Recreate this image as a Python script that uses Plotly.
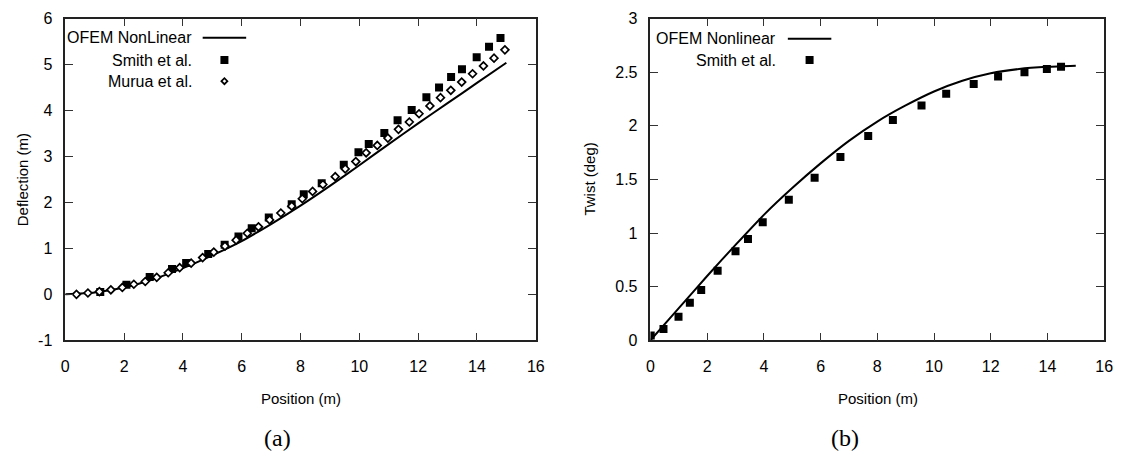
import plotly.graph_objects as go

# ---------------- data: panel (a) deflection ----------------
ofem_a_x = [0, 1, 2, 3, 4, 5, 6, 7, 8, 9, 10, 11, 12, 13, 14, 15]
ofem_a_y = [0.0, 0.04, 0.15, 0.33, 0.57, 0.85, 1.16, 1.53, 1.93, 2.36, 2.81, 3.27, 3.72, 4.16, 4.60, 5.04]

smith_a_x = [1.19, 2.08, 2.87, 3.63, 4.11, 4.86, 5.42, 5.89, 6.34, 6.92, 7.70, 8.11, 8.72,
             9.47, 9.97, 10.32, 10.85, 11.30, 11.78, 12.28, 12.71, 13.12, 13.49, 13.99, 14.41, 14.80]
smith_a_y = [0.05, 0.21, 0.38, 0.55, 0.68, 0.88, 1.08, 1.26, 1.44, 1.67, 1.96, 2.18, 2.42,
             2.82, 3.09, 3.27, 3.51, 3.79, 4.01, 4.29, 4.50, 4.73, 4.90, 5.16, 5.39, 5.58]

murua_a_x = [0.38, 0.77, 1.16, 1.55, 1.94, 2.33, 2.72, 3.11, 3.50, 3.89, 4.28, 4.67, 5.05, 5.43,
             5.81, 6.19, 6.57, 6.95, 7.33, 7.70, 8.06, 8.41, 8.76, 9.18, 9.52, 9.88, 10.23, 10.61,
             10.97, 11.33, 11.70, 12.03, 12.40, 12.76, 13.11, 13.48, 13.85, 14.22, 14.58, 14.95]
murua_a_y = [0.0, 0.03, 0.06, 0.10, 0.15, 0.22, 0.28, 0.37, 0.47, 0.58, 0.68, 0.80, 0.92, 1.05,
             1.18, 1.33, 1.47, 1.62, 1.77, 1.92, 2.08, 2.24, 2.39, 2.56, 2.73, 2.89, 3.08, 3.24,
             3.40, 3.59, 3.75, 3.93, 4.10, 4.28, 4.44, 4.62, 4.80, 4.97, 5.14, 5.32]

# ---------------- data: panel (b) twist ----------------
ofem_b_x = [0, 1, 2, 3, 4, 5, 6, 7, 8, 9, 10, 11, 12, 13, 14, 15]
ofem_b_y = [0.0, 0.30, 0.60, 0.89, 1.17, 1.42, 1.65, 1.86, 2.04, 2.19, 2.32, 2.42, 2.49, 2.53, 2.55, 2.56]

smith_b_x = [0.01, 0.46, 0.99, 1.39, 1.79, 2.37, 3.00, 3.44, 3.96, 4.88, 5.79, 6.70, 7.68, 8.55,
             9.56, 10.43, 11.40, 12.26, 13.19, 13.98, 14.48]
smith_b_y = [0.045, 0.105, 0.22, 0.35, 0.47, 0.65, 0.83, 0.945, 1.10, 1.31, 1.515, 1.71, 1.905, 2.055,
             2.19, 2.30, 2.39, 2.46, 2.50, 2.53, 2.55]

x_ticks = [0, 2, 4, 6, 8, 10, 12, 14, 16]
y_ticks_a = [-1, 0, 1, 2, 3, 4, 5, 6]
y_ticks_a_text = ["-1", "0", "1", "2", "3", "4", "5", "6"]
y_ticks_b = [0, 0.5, 1, 1.5, 2, 2.5, 3]

W, H = 1125, 463
FONT = "Liberation Sans, Arial, sans-serif"

fig = go.Figure()

# panel (a)
fig.add_trace(go.Scatter(x=ofem_a_x, y=ofem_a_y, mode="lines",
                         line=dict(color="black", width=2, shape="spline", smoothing=0.6),
                         xaxis="x", yaxis="y", showlegend=False))
fig.add_trace(go.Scatter(x=smith_a_x, y=smith_a_y, mode="markers",
                         marker=dict(symbol="square", size=8, color="black"),
                         xaxis="x", yaxis="y", showlegend=False))
fig.add_trace(go.Scatter(x=murua_a_x, y=murua_a_y, mode="markers",
                         marker=dict(symbol="diamond", size=6, color="white", line=dict(color="black", width=1.7)),
                         xaxis="x", yaxis="y", showlegend=False))
# panel (b)
fig.add_trace(go.Scatter(x=ofem_b_x, y=ofem_b_y, mode="lines",
                         line=dict(color="black", width=2, shape="spline", smoothing=0.6),
                         xaxis="x2", yaxis="y2", showlegend=False))
fig.add_trace(go.Scatter(x=smith_b_x, y=smith_b_y, mode="markers",
                         marker=dict(symbol="square", size=8, color="black"),
                         xaxis="x2", yaxis="y2", showlegend=False))

def px(x):
    return x / W

def py(y):
    return 1 - y / H

ydom = [py(345), py(11)]
axis_common = dict(showgrid=False, zeroline=False, showline=True, linecolor="#222", linewidth=1.5,
                   mirror="ticks", ticks="inside", ticklen=8, tickwidth=1, tickcolor="#333",
                   tickfont=dict(family=FONT, size=16, color="black"))

fig.update_layout(
    width=W, height=H, autosize=False,
    margin=dict(l=0, r=0, t=0, b=0),
    paper_bgcolor="white", plot_bgcolor="white",
    showlegend=False,
    xaxis=dict(domain=[px(62), px(538)], range=[0, 16], tickvals=x_ticks, anchor="y",
               ticklabelstandoff=11, **axis_common),
    yaxis=dict(domain=ydom, range=[-1, 6], tickvals=y_ticks_a, ticktext=y_ticks_a_text, anchor="x",
               ticklabelstandoff=8, **axis_common),
    xaxis2=dict(domain=[px(654), px(1113)], range=[0, 16], tickvals=x_ticks, anchor="y2",
                ticklabelstandoff=11, **axis_common),
    yaxis2=dict(domain=ydom, range=[0, 3], tickvals=y_ticks_b, anchor="x2",
                ticklabelstandoff=8, **axis_common),
)

annotations = []
def text(x, y, s, size=15, anchor="center", angle=0, family=FONT):
    annotations.append(dict(x=px(x), y=py(y), xref="paper", yref="paper", text=s, showarrow=False,
                            xanchor=anchor, yanchor="middle", textangle=angle,
                            font=dict(family=family, size=size, color="black")))

# axis titles
text(300, 405, "Position (m)")
text(884, 405, "Position (m)")
text(19, 178, "Deflection (m)", angle=-90)
text(592, 178, "Twist (deg)", angle=-90)
# panel captions
text(277, 446, "(a)", size=24, family="Liberation Serif, serif")
text(851, 446, "(b)", size=24, family="Liberation Serif, serif")

# gnuplot-style keys (text right-aligned, sample to the right)
text(192, 31, "OFEM NonLinear", size=16, anchor="right")
text(192, 54, "Smith et al.", size=16, anchor="right")
text(192, 76, "Murua et al.", size=16, anchor="right")
text(783, 32, "OFEM Nonlinear", size=16, anchor="right")
text(783, 54, "Smith et al.", size=16, anchor="right")

shapes = [
    dict(type="line", xref="paper", yref="paper", x0=px(201), x1=px(245), y0=py(31), y1=py(31),
         line=dict(color="black", width=2)),
    dict(type="rect", xref="paper", yref="paper", xsizemode="pixel", ysizemode="pixel",
         xanchor=px(223), yanchor=py(54), x0=-4, x1=4, y0=-4, y1=4,
         fillcolor="black", line=dict(width=0)),
    dict(type="path", xref="paper", yref="paper", xsizemode="pixel", ysizemode="pixel",
         xanchor=px(223), yanchor=py(76), path="M -3 0 L 0 3 L 3 0 L 0 -3 Z",
         fillcolor="white", line=dict(color="black", width=1.7)),
    dict(type="line", xref="paper", yref="paper", x0=px(793), x1=px(837), y0=py(32), y1=py(32),
         line=dict(color="black", width=2)),
    dict(type="rect", xref="paper", yref="paper", xsizemode="pixel", ysizemode="pixel",
         xanchor=px(815), yanchor=py(54), x0=-4, x1=4, y0=-4, y1=4,
         fillcolor="black", line=dict(width=0)),
]

fig.update_layout(annotations=annotations, shapes=shapes)
fig.write_html("out.html")
